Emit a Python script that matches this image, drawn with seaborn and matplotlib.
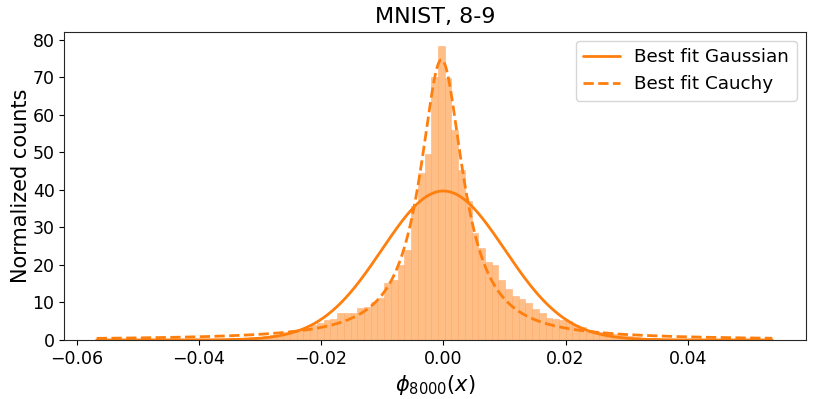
import numpy as np
import pandas as pd
import matplotlib
matplotlib.use("Agg")
import matplotlib.pyplot as plt
import seaborn as sns

sns.set_style("ticks", {"axes.edgecolor": "0.15", "text.color": "black",
                        "axes.labelcolor": "black", "xtick.color": "black",
                        "ytick.color": "black"})

# Histogram: 100 bins, heights in normalized counts
bin_lo = -0.05698
bin_hi = 0.05302
n_bins = 100
heights = [
    0.1, 0.1, 0.1, 0.1, 0.1, 0.1, 0.1, 0.1, 0.1, 0.1,
    0.1, 0.1, 0.1, 0.15, 0.15, 0.2, 0.2, 0.2, 0.3, 0.3,
    0.4, 0.4, 0.6, 0.8, 0.9, 1.1, 1.3, 1.4, 2.0, 2.6,
    2.8, 3.3, 4.0, 4.6, 5.3, 5.6, 7.3, 7.3, 7.3, 8.4,
    8.9, 10.2, 11.1, 15.3, 16.0, 20.0, 24.0, 35.7, 44.5, 49.6,
    70.2, 78.4, 69.8, 56.0, 45.3, 37.0, 28.5, 24.4, 20.8, 20.0,
    16.0, 13.5, 11.6, 11.0, 9.9, 8.2, 7.1, 5.8, 5.5, 5.3,
    5.0, 4.0, 3.4, 2.7, 2.4, 2.2, 1.8, 1.5, 1.2, 1.0,
    0.8, 0.6, 0.5, 0.4, 0.3, 0.3, 0.2, 0.2, 0.15, 0.1,
    0.1, 0.1, 0.1, 0.1, 0.1, 0.1, 0.1, 0.1, 0.1, 0.1,
]

# Fitted curve parameters
gauss_mu = 0.0
gauss_sigma = 0.01005
cauchy_x0 = -0.0003
cauchy_gamma = 0.00426
curve_lo = -0.0567
curve_hi = 0.0538

edges = np.linspace(bin_lo, bin_hi, n_bins + 1)
centers = (edges[:-1] + edges[1:]) / 2
hist_df = pd.DataFrame({"phi": centers, "h": heights})

xs = np.linspace(curve_lo, curve_hi, 600)
gauss = np.exp(-0.5 * ((xs - gauss_mu) / gauss_sigma) ** 2) / (gauss_sigma * np.sqrt(2 * np.pi))
cauchy = 1.0 / (np.pi * cauchy_gamma * (1 + ((xs - cauchy_x0) / cauchy_gamma) ** 2))

fig, ax = plt.subplots(figsize=(8.14, 3.99), dpi=100)
fig.subplots_adjust(left=0.079, right=0.990, bottom=0.148, top=0.921)

sns.histplot(data=hist_df, x="phi", weights="h", bins=n_bins, binrange=(bin_lo, bin_hi),
             color="#ff7f0e", alpha=0.5, edgecolor="#ffb27a", linewidth=0.4, ax=ax)
sns.lineplot(x=xs, y=gauss, color="#ff7f0e", linewidth=2, label="Best fit Gaussian", ax=ax)
sns.lineplot(x=xs, y=cauchy, color="#ff7f0e", linewidth=2, linestyle="--",
             label="Best fit Cauchy", ax=ax)

ax.set_xlim(-0.062, 0.0593)
ax.set_ylim(0, 82.2)
ax.set_xticks([-0.06, -0.04, -0.02, 0.0, 0.02, 0.04])
ax.set_xticklabels(["−0.06", "−0.04", "−0.02", "0.00", "0.02", "0.04"])
ax.set_yticks(range(0, 81, 10))
ax.tick_params(labelsize=12.5)
ax.set_title("MNIST, 8-9", fontsize=16)
ax.set_xlabel(r"$\phi_{8000}(x)$", fontsize=15)
ax.set_ylabel("Normalized counts", fontsize=15, labelpad=1)
ax.legend(loc="upper right", fontsize=13.2)

plt.savefig("out.png", dpi=100)
